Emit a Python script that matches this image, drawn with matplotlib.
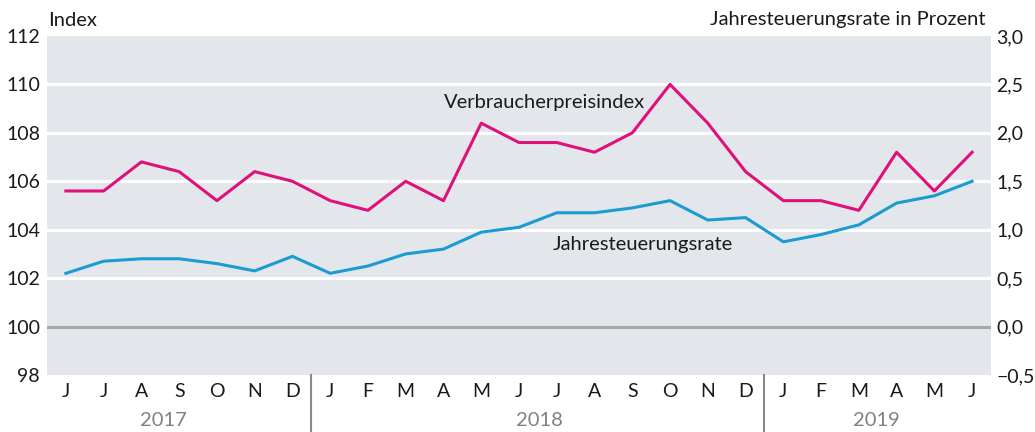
import matplotlib.pyplot as plt
import matplotlib.transforms as mtransforms

months = ['J', 'J', 'A', 'S', 'O', 'N', 'D',
          'J', 'F', 'M', 'A', 'M', 'J', 'J', 'A', 'S', 'O', 'N', 'D',
          'J', 'F', 'M', 'A', 'M', 'J']
years = ['2017', '2018', '2019']

vpi = [105.6, 105.6, 106.8, 106.4, 105.2, 106.4, 106.0,
       105.2, 104.8, 106.0, 105.2, 108.4, 107.6, 107.6, 107.2, 108.0, 110.0, 108.4, 106.4,
       105.2, 105.2, 104.8, 107.2, 105.6, 107.2]
rate = [102.2, 102.7, 102.8, 102.8, 102.6, 102.3, 102.9,
        102.2, 102.5, 103.0, 103.2, 103.9, 104.1, 104.7, 104.7, 104.9, 105.2, 104.4, 104.5,
        103.5, 103.8, 104.2, 105.1, 105.4, 106.0]

left_ticks = [98, 100, 102, 104, 106, 108, 110, 112]
right_labels = ['\u22120,5', '0,0', '0,5', '1,0', '1,5', '2,0', '2,5', '3,0']

plt.rcParams['font.family'] = ['Lato', 'DejaVu Sans']

fig = plt.figure(figsize=(10.35, 4.32), dpi=100)
ax = fig.add_axes([47 / 1035, 57 / 432, 944 / 1035, 339 / 432])
ax.set_facecolor('#e3e7ec')

x = list(range(len(months)))
ax.set_xlim(-0.5, len(months) - 0.5)
ax.set_ylim(98, 112)

for v in left_ticks[2:-1]:
    ax.axhline(v, color='white', lw=2.2, zorder=1)
ax.axhline(100, color='#a8a8a8', lw=2.2, zorder=1)

ax.plot(x, vpi, color='#e0107a', lw=2.2, zorder=3)
ax.plot(x, rate, color='#1a9cd2', lw=2.2, zorder=3)

ax.text(10.0, 109.27, 'Verbraucherpreisindex', fontsize=14.5, color='#1a1a1a', va='center')
ax.text(12.9, 103.4, 'Jahresteuerungsrate', fontsize=14.5, color='#1a1a1a', va='center')

for s in ax.spines.values():
    s.set_visible(False)

ax.set_yticks(left_ticks)
ax.set_yticklabels([str(v) for v in left_ticks], fontsize=14, color='#1a1a1a')
ax.set_xticks(x)
ax.set_xticklabels(months, fontsize=14, color='#1a1a1a')
ax.tick_params(axis='both', length=0)
ax.tick_params(axis='y', pad=5)
ax.tick_params(axis='x', pad=6)

ax2 = ax.twinx()
ax2.set_ylim(98, 112)
ax2.set_yticks(left_ticks)
ax2.set_yticklabels(right_labels, fontsize=14, color='#1a1a1a')
ax2.tick_params(axis='y', length=0, pad=4)
for s in ax2.spines.values():
    s.set_visible(False)

trans = mtransforms.blended_transform_factory(ax.transData, ax.transAxes)
for sep in [6.5, 18.5]:
    ax.plot([sep, sep], [0, -0.17], transform=trans, color='#8a8a8a', lw=1.5, clip_on=False)

year_centers = [2.57, 12.53, 21.46]
for yc, yr in zip(year_centers, years):
    ax.text(yc, -0.135, yr, transform=trans, fontsize=14.5, color='#808080',
            ha='center', va='center')

fig.text(48 / 1035, 1 - 20 / 432, 'Index', fontsize=14.5, color='#1a1a1a', va='center')
fig.text(986 / 1035, 1 - 20 / 432, 'Jahresteuerungsrate in Prozent', fontsize=14.5,
         color='#1a1a1a', va='center', ha='right')

fig.savefig('out.png', dpi=100)
